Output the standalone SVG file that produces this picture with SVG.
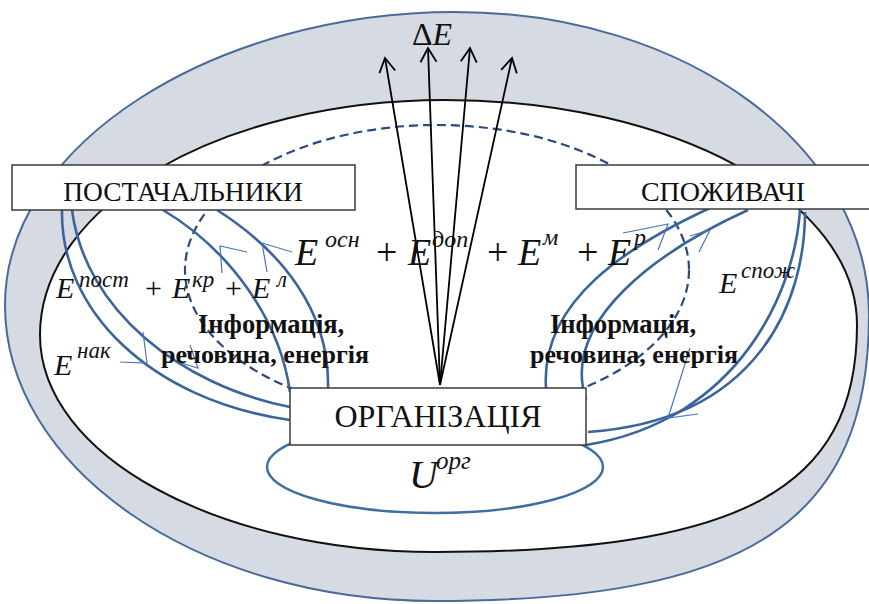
<svg xmlns="http://www.w3.org/2000/svg" width="869" height="604" viewBox="0 0 869 604">
<defs>
<style>
.box{fill:#fff;stroke:#3a3a3a;stroke-width:1.5}
.t{font-family:"Liberation Serif","Times New Roman",serif;fill:#111}
.it{font-style:italic}
.b{font-weight:bold}
.loop{fill:none;stroke:#3b659a;stroke-width:2.6}
.tick{fill:none;stroke:#4d74b3;stroke-width:1.2}
.arr{fill:none;stroke:#000;stroke-width:1.8;marker-end:url(#oa)}
</style>
<marker id="oa" markerUnits="userSpaceOnUse" markerWidth="20" markerHeight="20" viewBox="0 0 20 20" refX="17" refY="10" orient="auto">
<path d="M3,2 L17,10 L3,18" fill="none" stroke="#000" stroke-width="1.8"/>
</marker>
</defs>

<g id="environment">
<path d="M455,12 C690,12 869,150 869,315 C869,520 750,601 435,601 C196,601 5,467 5,305 C5,143 217,12 455,12 Z" fill="#d5dae3" stroke="#4a6b9a" stroke-width="2"/>
<path d="M445,100 C673,100 857,200 857,325 C857,490 740,552 435,552 C217,552 40,455 40,335 C40,205 221,100 445,100 Z" fill="#fff" stroke="#111" stroke-width="2"/>
<ellipse cx="437" cy="270" rx="252" ry="145" fill="none" stroke="#2c4a7c" stroke-width="2.2" stroke-dasharray="9 5"/>
<ellipse cx="435" cy="467" rx="168" ry="46" fill="none" stroke="#3f6fa0" stroke-width="2.5"/>
</g>

<g id="connectors">
<path class="loop" d="M62,210 C60,310 150,400 290,420"/>
<path class="loop" d="M72,210 C85,310 180,385 290,407"/>
<path class="loop" d="M163,210 C230,250 280,320 290,392"/>
<path class="loop" d="M217,210 C280,250 330,310 328,388"/>
<path class="loop" d="M800,210 C795,290 740,420 586,445"/>
<path class="loop" d="M805,212 C805,300 760,420 588,432"/>
<path class="loop" d="M710,208 C630,245 540,300 546,388"/>
<path class="loop" d="M748,210 C660,250 560,320 586,400"/>
<polyline class="tick" points="247,252 220,246 222,273"/>
<polyline class="tick" points="292,252 262,243 267,272"/>
<polyline class="tick" points="120,362 147,363 143,332"/>
<polyline class="tick" points="190,345 198,368 178,362"/>
<polyline class="tick" points="623,233 668,224 658,250"/>
<polyline class="tick" points="690,236 710,230 699,252"/>
<polyline class="tick" points="690,348 668,418 698,414"/>
<line class="arr" x1="440" y1="385" x2="385" y2="58"/>
<line class="arr" x1="440" y1="385" x2="428" y2="48"/>
<line class="arr" x1="440" y1="385" x2="470" y2="48"/>
<line class="arr" x1="440" y1="385" x2="512" y2="58"/>
</g>

<g id="suppliers">
<rect class="box" x="12" y="165" width="343" height="45"/>
<text class="t" x="183" y="201" font-size="27.5" text-anchor="middle">ПОСТАЧАЛЬНИКИ</text>
</g>

<g id="consumers">
<rect class="box" x="576" y="165" width="300" height="44"/>
<text class="t" x="723" y="201" font-size="28" text-anchor="middle">СПОЖИВАЧІ</text>
</g>

<g id="organization">
<rect class="box" x="290" y="388" width="296" height="57"/>
<text class="t" x="438" y="427" font-size="32" text-anchor="middle">ОРГАНІЗАЦІЯ</text>
</g>

<g id="labels">
<text class="t" x="412" y="45" font-size="32">Δ<tspan class="it">E</tspan></text>
<text class="t it" x="295" y="265" font-size="38">E</text>
<text class="t it" x="325" y="247" font-size="24">осн</text>
<text class="t" x="376" y="265" font-size="38">+</text>
<text class="t it" x="408" y="265" font-size="38">E</text>
<text class="t it" x="432" y="247" font-size="24">доп</text>
<text class="t" x="487" y="265" font-size="38">+</text>
<text class="t it" x="518" y="265" font-size="38">E</text>
<text class="t it" x="543" y="245" font-size="24">м</text>
<text class="t" x="577" y="265" font-size="38">+</text>
<text class="t it" x="608" y="265" font-size="38">E</text>
<text class="t it" x="634" y="245" font-size="24">р</text>

<text class="t it" x="56" y="298" font-size="30">E</text>
<text class="t it" x="79" y="287" font-size="23">пост</text>
<text class="t" x="145" y="298" font-size="30">+</text>
<text class="t it" x="172" y="298" font-size="30">E</text>
<text class="t it" x="192" y="287" font-size="23">кр</text>
<text class="t" x="225" y="298" font-size="30">+</text>
<text class="t it" x="252" y="298" font-size="30">E</text>
<text class="t it" x="277" y="287" font-size="23">л</text>

<text class="t it" x="54" y="375" font-size="30">E</text>
<text class="t it" x="77" y="358" font-size="23">нак</text>

<text class="t it" x="719" y="293" font-size="30">E</text>
<text class="t it" x="741" y="278" font-size="23">спож</text>

<text class="t it" x="409" y="488" font-size="40">U</text>
<text class="t it" x="436" y="469" font-size="25">орг</text>

<text class="t b" x="198" y="333" font-size="26.5">Інформація,</text>
<text class="t b" x="161" y="363" font-size="26">речовина, енергія</text>
<text class="t b" x="550" y="333" font-size="26.5">Інформація,</text>
<text class="t b" x="530" y="363" font-size="26">речовина, енергія</text>
</g>
</svg>
